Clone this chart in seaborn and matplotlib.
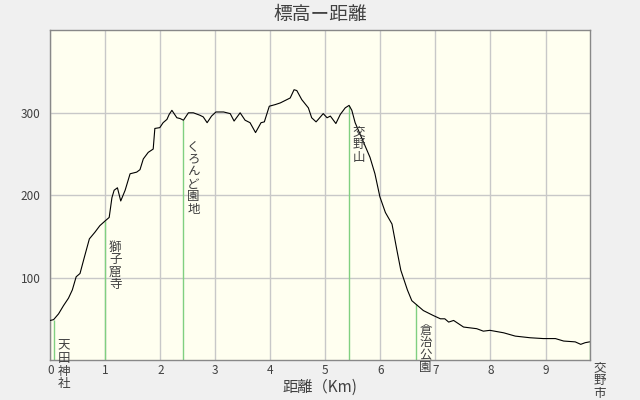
import numpy as np
import pandas as pd
import seaborn as sns
import matplotlib.pyplot as plt

# 距離 (km) と 標高 (m)
dist = [0.00, 0.06, 0.15, 0.24, 0.33, 0.40, 0.47, 0.54, 0.62, 0.71, 0.81, 0.90,
        1.00, 1.07, 1.12, 1.16, 1.22, 1.28, 1.36, 1.45, 1.57, 1.63, 1.69, 1.78,
        1.87, 1.90, 1.99, 2.05, 2.12, 2.16, 2.21, 2.30, 2.36, 2.42, 2.51, 2.60,
        2.72, 2.78, 2.85, 2.93, 3.01, 3.15, 3.27, 3.34, 3.45, 3.54, 3.63, 3.73,
        3.83, 3.89, 3.98, 4.09, 4.18, 4.30, 4.36, 4.43, 4.48, 4.57, 4.69, 4.75,
        4.83, 4.87, 4.96, 5.03, 5.09, 5.19, 5.27, 5.36, 5.43, 5.48, 5.54, 5.63,
        5.72, 5.81, 5.90, 5.99, 6.09, 6.21, 6.30, 6.37, 6.43, 6.49, 6.57, 6.64,
        6.78, 6.96, 7.09, 7.17, 7.24, 7.33, 7.51, 7.75, 7.87, 7.99, 8.24, 8.45,
        8.72, 8.96, 9.18, 9.33, 9.54, 9.64, 9.72, 9.80]
elev = [48, 49, 56, 66, 75, 85, 101, 105, 125, 147, 155, 163,
        169, 173, 197, 206, 209, 193, 206, 226, 228, 231, 244, 252,
        256, 281, 282, 288, 292, 298, 303, 294, 293, 291, 300, 300,
        297, 295, 288, 296, 301, 301, 299, 290, 300, 291, 288, 276,
        288, 289, 308, 310, 312, 316, 318, 328, 327, 316, 306, 294,
        289, 292, 299, 294, 296, 287, 298, 306, 309, 303, 288, 274,
        260, 246, 226, 198, 179, 165, 133, 109, 97, 85, 72, 68,
        60, 54, 50, 50, 46, 48, 40, 38, 35, 36, 33, 29,
        27, 26, 26, 23, 22, 19, 21, 22]

# 地点
spots = ["天田神社", "獅子窟寺", "くろんど園地", "交野山", "倉治公園", "交野市"]
spot_km = [0.06, 1.00, 2.42, 5.42, 6.64, 9.80]

xticks = list(range(10))
yticks = [100, 200, 300]

df = pd.DataFrame({"km": dist, "m": elev})
spot_m = np.interp(spot_km, dist, elev)

sns.set_theme(style="white")
plt.rcParams["font.family"] = ["Noto Sans CJK JP", "DejaVu Sans"]

fig = plt.figure(figsize=(6.4, 4), dpi=100, facecolor="#f0f0f0")
ax = fig.add_axes([0.0786, 0.1, 0.8434, 0.824])
ax.set_facecolor("#fffff0")

ax.set_xlim(0, 9.81)
ax.set_ylim(0, 400)
ax.set_xticks(xticks)
ax.set_yticks(yticks)
ax.grid(True, color="#c8c8c8", lw=1)
ax.set_axisbelow(True)
for s in ax.spines.values():
    s.set_color("#888888")
    s.set_linewidth(1)
ax.tick_params(length=0, labelsize=8.5, labelcolor="#404040")
ax.tick_params(axis="x", pad=3)
ax.tick_params(axis="y", pad=7)

# 地点の縦線
ax.vlines(spot_km, 0, spot_m, color="#80d080", lw=1, zorder=2)

sns.lineplot(data=df, x="km", y="m", ax=ax, color="black", lw=0.8,
             estimator=None, sort=False, zorder=3)

for name, x, y in zip(spots, spot_km, spot_m):
    ax.annotate("\n".join(name), xy=(x, y), xytext=(10, -20),
                textcoords="offset pixels", ha="center", va="top",
                fontsize=9, color="#404040", linespacing=0.95,
                annotation_clip=False, zorder=4)

ax.set_xlabel("距離（Km)", fontsize=11, color="#404040", labelpad=1)
ax.set_ylabel("")
fig.text(0.5, 0.963, "標高ー距離", ha="center", va="center",
         fontsize=13.5, color="#404040")

fig.savefig("out.png", dpi=100, facecolor=fig.get_facecolor())
